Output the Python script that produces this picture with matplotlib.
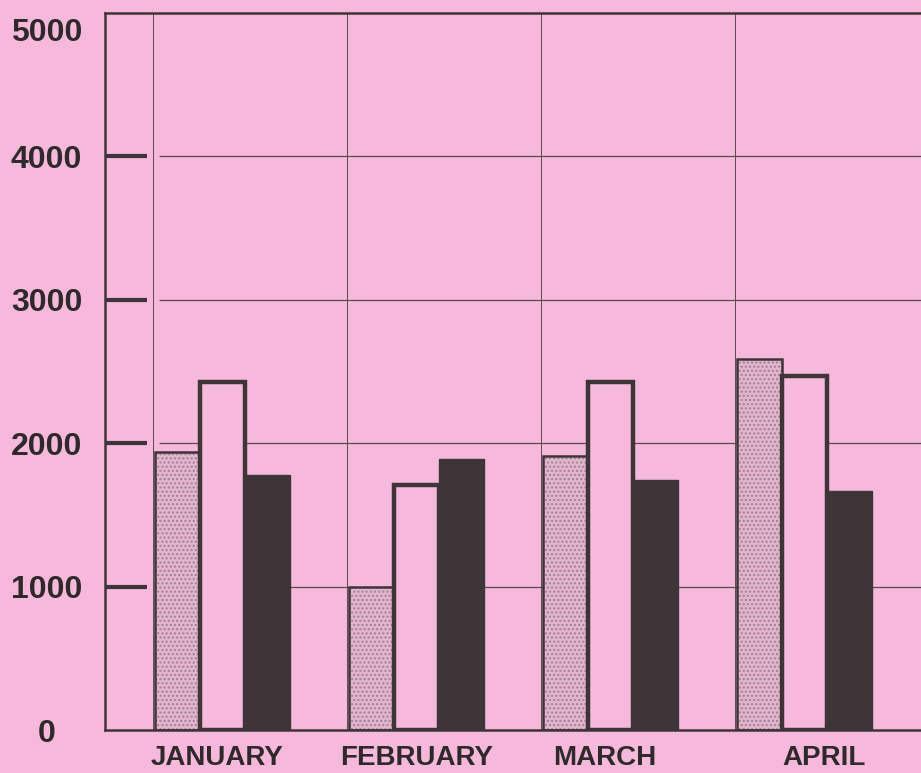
import numpy as np
import matplotlib.pyplot as plt

# monthly values, three series
months = ['JANUARY', 'FEBRUARY', 'MARCH', 'APRIL']
series_a = [1940, 1000, 1910, 2590]   # stippled
series_b = [2430, 1710, 2430, 2470]   # outlined
series_c = [1780, 1890, 1740, 1670]   # dark
yticks = [0, 1000, 2000, 3000, 4000, 5000]

pink = '#f6b9db'
dark = '#3e3538'

plt.rcParams['font.family'] = ['Liberation Sans', 'DejaVu Sans']

fig = plt.figure(figsize=(9.21, 7.73), dpi=100, facecolor=pink)
ax = fig.add_axes([0.114, 0.0556, 0.886, 0.9276], facecolor=pink)

x = np.arange(len(months))
w = 0.232

# grid: horizontal lines, short thick ticks on the left, vertical separators
for v in yticks[1:-1]:
    ax.hlines(v, -0.33, 3.7, color='#5a4a50', lw=0.9, zorder=1)
    ax.hlines(v, -0.62, -0.39, color=dark, lw=3, zorder=1)
for xi in x:
    ax.axvline(xi - 0.36, color='#5a4a50', lw=0.7, zorder=1)

# stippled bars
ax.bar(x - w, series_a, w, color='#e4b4cf', hatch='....', edgecolor='#9a8490',
       linewidth=0, zorder=2)
ax.bar(x - w, series_a, w, fill=False, edgecolor=dark, linewidth=1.8, zorder=3)
# outlined bars
ax.bar(x, series_b, w, color=pink, edgecolor=dark, linewidth=3.2, zorder=3)
# dark bars
ax.bar(x + w, series_c, w, color=dark, edgecolor=dark, linewidth=1, zorder=3)

ax.set_xlim(-0.608, 3.598)
ax.set_ylim(0, 5000)

ax.set_yticks(yticks)
ax.set_yticklabels([str(v) for v in yticks[:-1]] + [''], fontsize=23,
                   fontweight='bold', color='#2e2a2c')
for lbl in ax.get_yticklabels():
    lbl.set_horizontalalignment('center')
# top label sits a little below the top line in the original
ax.text(-0.072, 4860, str(yticks[-1]), transform=ax.get_yaxis_transform(),
        ha='center', va='center', fontsize=23, fontweight='bold', color='#2e2a2c')

ax.set_xticks(x + np.array([-0.03, 0.0, -0.03, 0.1]))
ax.set_xticklabels(months, fontsize=20, fontweight='bold', color='#2e2a2c')
ax.tick_params(axis='y', length=0, pad=42)
ax.tick_params(axis='x', length=0, pad=11)

ax.spines['right'].set_visible(False)
for s in ['left', 'bottom', 'top']:
    ax.spines[s].set_linewidth(1.8)
    ax.spines[s].set_color(dark)

plt.savefig('out.png', dpi=100, facecolor=pink)
